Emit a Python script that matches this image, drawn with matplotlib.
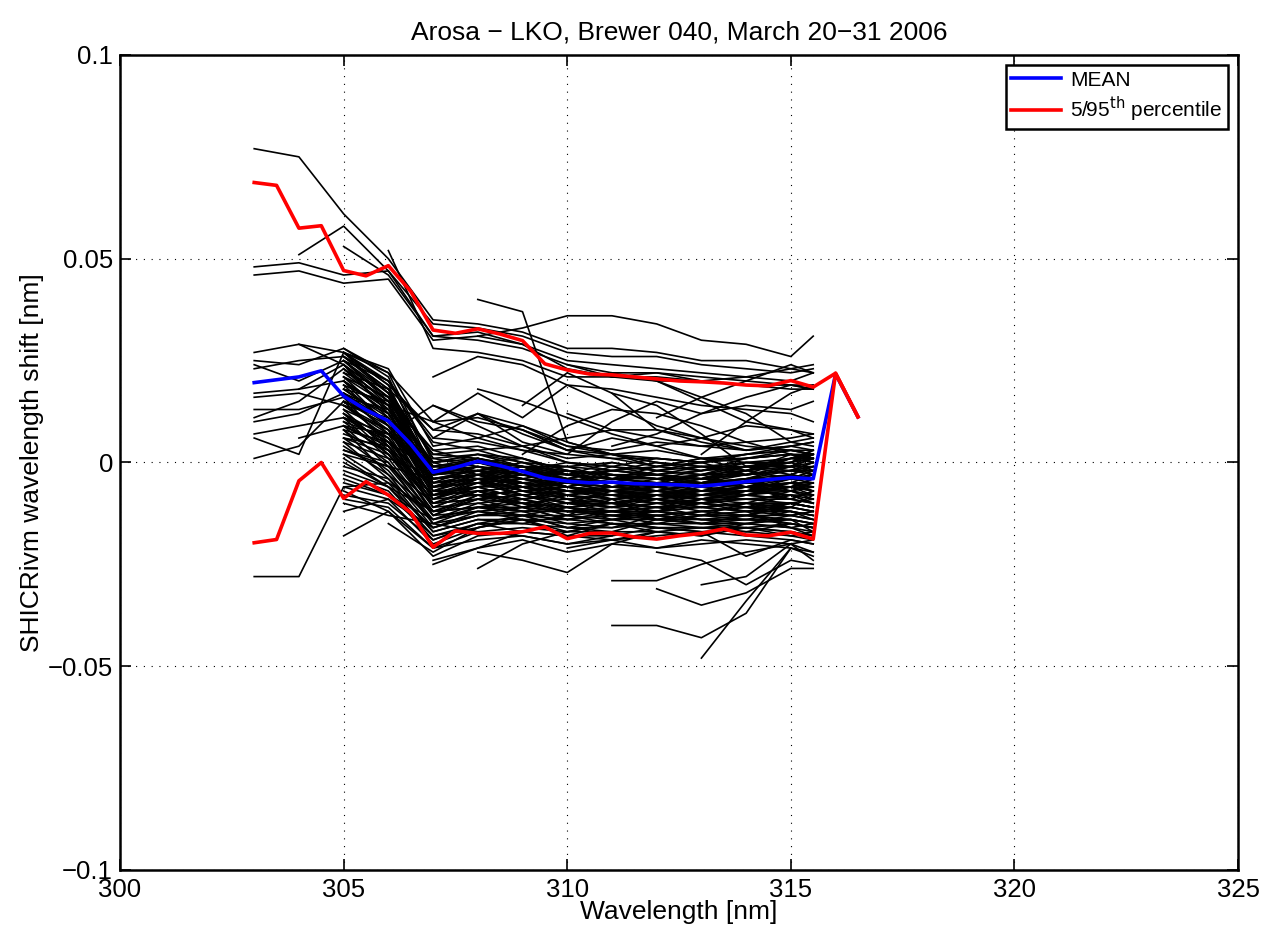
import numpy as np
import matplotlib
matplotlib.use("Agg")
import matplotlib.pyplot as plt

plt.rcParams["font.family"] = ["Liberation Sans", "DejaVu Sans"]

# ── data: wavelength shift in units of 1e-3 nm ─────────────────────────────
SCAN_WL = [303, 304, 305, 306, 307, 308, 309, 310, 311, 312, 313, 314, 315, 315.5]

# scans that start at 303 / 304 nm
left_scans = [
    (303, [77, 75, 61, 50, 35, 34, 32, 28, 28, 27, 25, 25, 23, 24]),
    (303, [48, 49, 46, 47, 34, 33, 31, 27, 26, 26, 24, 23, 22, 23]),
    (303, [46, 47, 44, 45, 30, 31, 29, 25, 24, 23, 22, 21, 20, 22]),
    (303, [27, 29, 27, 19, 8, 7, 4, 0, -2, -3, -4, -3, -2, -3]),
    (303, [25, 24, 28, 22, 10, 11, 8, 3, 2, 1, 0, 1, 2, 1]),
    (303, [23, 25, 26, 17, 2, 3, 0, -3, -4, -5, -6, -4, -3, -4]),
    (303, [17, 18, 20, 12, -2, 0, -2, -5, -6, -5, -7, -6, -5, -6]),
    (303, [11, 15, 23, 15, 0, 1, -1, -4, -5, -6, -5, -5, -4, -3]),
    (303, [10, 12, 17, 9, -4, -3, -5, -7, -8, -8, -9, -8, -7, -8]),
    (303, [7, 9, 11, 5, -6, -5, -6, -8, -10, -9, -10, -9, -9, -10]),
    (303, [1, 4, 15, 10, -3, -2, -4, -6, -7, -7, -8, -7, -6, -5]),
    (303, [-28, -28, -6, -5, -12, -11, -11, -12, -12, -13, -12, -11, -10, -11]),
    (303, [6, 2, 27, 20, 6, 5, 3, 0, -1, -2, -3, -2, -1, -1]),
    (303, [13, 13, 16, 13, 0, 2, 1, -2, -3, -3, -4, -3, -2, -2]),
    (303, [24, 20, 25, 16, -1, 1, -1, -3, -4, -4, -5, -4, -4, -5]),
    (303, [16, 17, 14, 8, -5, -4, -5, -7, -7, -8, -8, -7, -6, -7]),
    (304, [51, 58, 47, 31, 30, 28, 24, 22, 22, 21, 20, 19, 19]),
    (304, [29, 24, 16, 3, 4, 1, -2, -3, -4, -4, -3, -2, -2]),
    (304, [18, 24, 14, -1, 0, -2, -5, -6, -7, -7, -6, -6, -6]),
    (304, [6, 9, 3, -8, -7, -8, -10, -10, -11, -11, -10, -10, -11]),
]

# dense bundle of scans starting at 305 nm
dense_scans = [
    (305, [28, 21, -2, 1, -2, -1, 0, -2, 0, 1, 3, 2]),
    (305, [27, 19, -3, -2, -1, -4, -2, -1, -2, 0, 0, 2]),
    (305, [27, 17, -5, -1, -3, -3, -4, -3, -1, -2, 1, 0]),
    (305, [26, 18, -4, -3, -2, -5, -3, -4, -4, -1, -1, 1]),
    (305, [25, 15, -6, -2, -5, -4, -5, -6, -3, -3, -2, -2]),
    (305, [24, 16, -5, -4, -3, -6, -4, -5, -5, -4, -1, -3]),
    (305, [23, 13, -7, -3, -6, -5, -7, -5, -6, -5, -4, -2]),
    (305, [22, 14, -6, -5, -4, -7, -6, -7, -5, -6, -3, -4]),
    (305, [21, 11, -8, -4, -7, -6, -8, -6, -8, -6, -5, -5]),
    (305, [20, 12, -7, -6, -5, -8, -7, -8, -7, -7, -6, -4]),
    (305, [19, 9, -9, -5, -8, -7, -9, -7, -9, -7, -7, -6]),
    (305, [18, 10, -8, -7, -6, -9, -8, -9, -8, -8, -5, -7]),
    (305, [17, 7, -10, -6, -9, -8, -10, -8, -9, -9, -8, -8]),
    (305, [16, 8, -9, -8, -7, -10, -9, -10, -10, -8, -9, -7]),
    (305, [15, 5, -11, -7, -10, -9, -11, -9, -11, -10, -10, -9]),
    (305, [14, 6, -10, -9, -8, -11, -10, -11, -10, -11, -8, -10]),
    (305, [13, 3, -12, -8, -11, -10, -12, -10, -12, -11, -11, -12]),
    (305, [12, 4, -11, -10, -9, -12, -11, -12, -11, -12, -10, -11]),
    (305, [11, 1, -13, -9, -12, -11, -13, -12, -13, -12, -12, -13]),
    (305, [10, 2, -12, -11, -10, -13, -12, -13, -12, -13, -11, -12]),
    (305, [9, -1, -14, -10, -12, -12, -13, -13, -14, -13, -13, -14]),
    (305, [8, 0, -13, -12, -11, -14, -12, -14, -13, -14, -12, -13]),
    (305, [6, -2, -15, -11, -13, -13, -14, -13, -14, -14, -14, -15]),
    (305, [4, -3, -16, -13, -12, -15, -14, -14, -15, -13, -15, -16]),
    (305, [2, -5, -17, -14, -14, -14, -15, -15, -15, -15, -14, -15]),
    (305, [0, -6, -18, -15, -13, -16, -14, -16, -16, -15, -16, -17]),
    (305, [-3, -7, -19, -15, -15, -16, -16, -15, -16, -16, -17, -18]),
    (305, [-6, -9, -20, -16, -14, -17, -15, -16, -17, -16, -15, -16]),
    (305, [-9, -11, -21, -17, -16, -17, -17, -17, -16, -17, -18, -19]),
    (305, [-7, -12, -23, -18, -17, -18, -18, -16, -17, -18, -19, -20]),
    (305, [25, 17, -1, 0, -3, -5, -6, -5, -3, -1, 1, 3]),
    (305, [21, 14, -3, -1, -4, -6, -7, -6, -4, -2, 0, 2]),
    (305, [18, 11, -4, -2, -5, -7, -8, -7, -5, -3, -1, 1]),
    (305, [15, 9, -6, -3, -6, -8, -9, -8, -6, -4, -2, 0]),
    (305, [12, 6, -7, -4, -7, -9, -10, -9, -7, -5, -3, -1]),
    (305, [9, 4, -8, -5, -8, -10, -11, -10, -8, -6, -4, -2]),
    (305, [6, 2, -9, -6, -9, -11, -12, -11, -9, -7, -5, -3]),
    (305, [3, -1, -10, -7, -10, -12, -13, -12, -10, -8, -6, -4]),
    (305, [26, 18, 1, 2, 0, -1, -2, -3, -4, -5, -6, -7]),
    (305, [23, 15, -1, 0, -1, -2, -3, -4, -5, -6, -7, -8]),
    (305, [20, 13, -2, -1, -2, -3, -4, -5, -6, -7, -8, -9]),
    (305, [17, 10, -3, -2, -3, -4, -5, -6, -7, -8, -9, -10]),
    (305, [14, 7, -4, -3, -4, -5, -6, -7, -8, -9, -10, -11]),
    (305, [11, 5, -6, -4, -5, -6, -7, -8, -9, -10, -11, -12]),
    (305, [7, 3, -8, -6, -6, -7, -8, -9, -10, -11, -12, -13]),
    (305, [-2, -6, -12, -9, -10, -11, -10, -11, -11, -12, -13, -14]),
    (305, [-5, -8, -14, -11, -12, -12, -12, -12, -13, -13, -14, -15]),
    (305, [-12, -9, -16, -13, -13, -14, -13, -14, -14, -14, -15, -16]),
    (305, [53, 46, 31, 32, 29, 23, 21, 21, 20, 19, 18, 18]),
    (305, [9, 7, 14, 10, 8, 4, 3, 5, 4, 3, 4, 5]),
    (305, [27, 22, 0, -3, -1, -3, -5, -2, -1, -3, -2, 0]),
    (305, [26, 20, 1, -1, -4, -2, -3, -6, -4, -2, -4, -3]),
    (305, [24, 12, -3, 0, -2, -6, -3, -4, -7, -5, -3, -1]),
    (305, [22, 18, -2, -4, -3, -2, -6, -4, -3, -6, -5, -6]),
    (305, [20, 9, -4, -2, -6, -4, -5, -7, -5, -4, -7, -5]),
    (305, [19, 14, -6, -5, -2, -5, -7, -6, -8, -7, -4, -3]),
    (305, [17, 12, -5, -3, -7, -8, -6, -5, -6, -8, -6, -8]),
    (305, [16, 4, -8, -6, -4, -6, -9, -8, -7, -6, -9, -7]),
    (305, [14, 11, -7, -8, -9, -7, -8, -10, -9, -7, -8, -10]),
    (305, [13, 8, -9, -4, -8, -10, -7, -9, -11, -10, -7, -9]),
    (305, [12, 2, -10, -9, -6, -9, -11, -8, -10, -12, -11, -8]),
    (305, [10, 6, -11, -7, -11, -8, -10, -12, -9, -11, -13, -12]),
    (305, [8, -3, -12, -11, -9, -12, -12, -11, -13, -10, -12, -14]),
    (305, [6, 4, -13, -8, -10, -13, -9, -14, -12, -13, -10, -11]),
    (305, [5, -4, -14, -12, -13, -11, -14, -12, -14, -15, -13, -12]),
    (305, [3, 0, -15, -13, -11, -14, -13, -15, -13, -12, -16, -15]),
    (305, [1, -6, -16, -12, -14, -15, -16, -13, -15, -14, -14, -17]),
    (305, [-1, -4, -17, -14, -15, -13, -15, -16, -16, -17, -15, -16]),
    (305, [-4, -8, -18, -16, -13, -16, -17, -14, -15, -16, -18, -17]),
    (305, [-8, -10, -19, -15, -17, -18, -15, -17, -18, -15, -16, -18]),
    (305, [21, 16, 2, 1, -2, 0, -1, -3, -2, 1, 2, 1]),
    (305, [18, 15, 3, 0, 1, -3, -2, 0, -1, -1, 0, 3]),
    (305, [15, 10, 0, 2, -1, -1, -4, -1, 1, -2, 2, 0]),
    (305, [11, 7, -1, -2, 0, -3, 0, -2, -3, 0, -1, 2]),
    (305, [8, 5, -2, 1, -2, -4, -1, 1, 0, -3, 1, 1]),
    (305, [5, 1, -3, -1, -3, -2, -3, -4, -2, -1, -2, -1]),
    (305, [2, -1, -4, -3, -1, -5, -2, -3, -5, -2, 0, -2]),
    (305, [27, 23, 4, 6, 3, 2, 1, 1, 0, 2, 3, 3]),
    (305, [25, 20, 5, 3, 4, 1, 2, -1, 1, 1, 2, 2]),
    (305, [-10, -13, -15, -17, -18, -20, -19, -21, -20, -19, -20, -22]),
]

# scattered scans in the upper part
mid_scans = [
    (306, [52, 28, 27, 25, 21, 21, 20, 20, 19, 19, 18]),
    (307, [21, 26, 24, 19, 18, 16, 14, 13, 12, 10]),
    (308, [31, 33, 36, 36, 34, 30, 29, 26, 31]),
    (308, [40, 37, 5, 2, 0, -2, -1, 0, 1]),
    (307, [10, 17, 11, 19, 14, 9, 6, 4, 3, 2]),
    (308, [12, 5, 2, 10, 15, 12, 14, 13, 15]),
    (309, [14, 22, 17, 8, 5, 3, 5, 6]),
    (310, [24, 21, 22, 20, 21, 23, 22]),
    (312, [11, 16, 20, 24, 22]),
    (311, [4, 7, 12, 16, 19, 18]),
    (311, [17, 14, 7, -1, -3, -4]),
    (312, [20, 15, 10, 8, 6]),
    (313, [2, 10, 17, 19]),
    (310, [12, 8, 8, 6, 9, 8, 7]),
    (309, [2, 9, 13, 12, 9, 5, 2, 1]),
    (311, [22, 20, 16, 12, 5, 4]),
    (307, [6, 12, 9, 4, 2, 0, -1, 0, 1, 2]),
    (306, [18, 8, 12, 7, 3, 1, -1, 0, 2, 3, 2]),
    (306, [14, 10, 6, 9, 5, 2, 3, 1, 0, -1, 0]),
    (307, [14, 9, 4, 6, 8, 6, 4, 5, 6, 7]),
    (308, [18, 15, 11, 7, 4, 6, 3, 4, 5]),
    (309, [8, 3, 6, 4, 1, 2, 4, 3]),
]

# scattered scans in the lower part
low_scans = [
    (307, [-25, -21, -17]),
    (308, [-26, -20, -17, -15]),
    (308, [-22, -24, -27, -20, -17]),
    (311, [-29, -29, -25, -22, -20, -19]),
    (311, [-40, -40, -43, -37, -21, -22]),
    (312, [-31, -35, -32, -26, -26]),
    (313, [-30, -28, -20, -24]),
    (313, [-48, -34, -21]),
    (307, [-24, -21, -19, -22, -20, -21, -19, -20, -21, -23]),
    (310, [-21, -19, -18, -17, -23, -19, -20]),
    (305, [-18, -12, -21, -19, -18, -20, -18]),
    (312, [-22, -24, -30, -24, -25]),
    (306, [-15, -22, -16, -14, -18, -19, -17, -18, -16, -17, -18]),
]

# statistics on the merged 0.5 nm grid
STAT_WL = [303, 303.5, 304, 304.5, 305, 305.5, 306, 306.5, 307, 307.5, 308,
           308.5, 309, 309.5, 310, 310.5, 311, 311.5, 312, 312.5, 313, 313.5,
           314, 314.5, 315, 315.5, 316, 316.5]
mean_shift = [19.6, 20.3, 21.0, 22.5, 16.3, 12.9, 10.2, 4.5, -2.4, -1.2, 0.3,
              -0.8, -2.2, -3.8, -4.6, -5.0, -4.8, -5.2, -5.3, -5.5, -5.8, -5.3,
              -4.7, -4.2, -3.7, -4.0, 21.7, 11.2]
p95_shift = [68.7, 68.0, 57.5, 58.1, 47.1, 45.8, 48.3, 42.0, 32.5, 31.7, 32.8,
             31.5, 29.9, 24.2, 22.7, 21.7, 21.5, 21.0, 20.5, 20.0, 19.8, 19.5,
             19.0, 18.8, 20.1, 18.5, 21.9, 11.2]
p5_shift = [-19.7, -18.9, -4.5, 0.0, -8.8, -4.7, -8.0, -12.3, -20.8, -16.8,
            -17.4, -17.4, -17.0, -15.8, -18.7, -17.4, -17.3, -18.3, -18.8,
            -18.0, -17.4, -16.3, -17.8, -18.0, -17.1, -18.8, 21.9, 11.2]

# ── plot ────────────────────────────────────────────────────────────────────
fig = plt.figure(figsize=(12.61, 9.38), dpi=100)
ax = fig.add_axes([0.0952, 0.0725, 0.8866, 0.8689])

for group in (left_scans, dense_scans, mid_scans, low_scans):
    for start, vals in group:
        i0 = SCAN_WL.index(start)
        wl = SCAN_WL[i0:i0 + len(vals)]
        ax.plot(wl, np.array(vals) * 1e-3, color="k", linewidth=1.2)

scale = 1e-3
h_mean, = ax.plot(STAT_WL, np.array(mean_shift) * scale, color="#0000ff",
                  linewidth=2.6, label="MEAN")
h_pct, = ax.plot(STAT_WL, np.array(p95_shift) * scale, color="#ff0000",
                 linewidth=2.6, label="5/95$^{\\rm th}$ percentile")
ax.plot(STAT_WL, np.array(p5_shift) * scale, color="#ff0000", linewidth=2.6)

ax.set_xlim(300, 325)
ax.set_ylim(-0.1, 0.1)
ax.set_xticks([300, 305, 310, 315, 320, 325])
ax.set_yticks([-0.1, -0.05, 0, 0.05, 0.1])
ax.set_yticklabels(["\u22120.1", "\u22120.05", "0", "0.05", "0.1"])
ax.tick_params(direction="in", top=True, right=True, length=8, width=1.2,
               labelsize=18.5)
ax.tick_params(axis="x", pad=6)
ax.tick_params(axis="y", pad=5)
ax.grid(True, linestyle=(0, (1, 6)), color="k", linewidth=0.8)
for sp in ax.spines.values():
    sp.set_linewidth(1.8)

ax.set_xlabel("Wavelength [nm]", fontsize=19, labelpad=-2)
ax.set_ylabel("SHICRivm wavelength shift [nm]", fontsize=19, labelpad=3)
ax.set_title("Arosa \u2212 LKO, Brewer 040, March 20\u221231 2006",
             fontsize=19, pad=11)

leg = ax.legend(handles=[h_mean, h_pct], loc="upper right", fontsize=15,
                fancybox=False, framealpha=1, edgecolor="k",
                borderaxespad=0.5, handlelength=2.4, borderpad=0.25,
                labelspacing=0.25, handletextpad=0.45)
leg.get_frame().set_linewidth(1.8)

fig.savefig("out.png", dpi=100)
